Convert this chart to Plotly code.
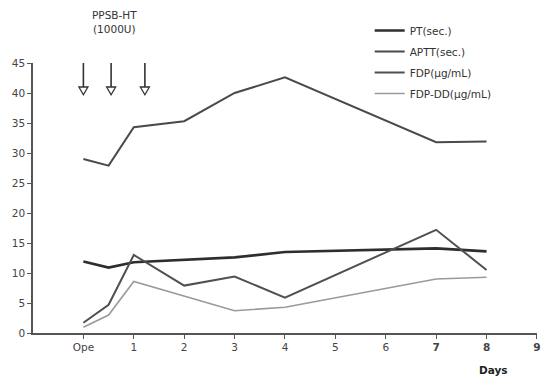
import plotly.graph_objects as go

# ---- data ----
days = [0, 0.5, 1, 2, 3, 4, 7, 8]
pt = [11.9, 10.9, 11.8, 12.2, 12.6, 13.5, 14.1, 13.6]
aptt = [29.0, 27.9, 34.3, 35.3, 40.0, 42.6, 31.8, 31.9]
fdp = [1.7, 4.7, 13.0, 7.9, 9.4, 5.9, 17.2, 10.5]
fdp_dd = [0.95, 3.0, 8.6, 6.1, 3.7, 4.3, 9.0, 9.3]

tick_vals = [0, 1, 2, 3, 4, 5, 6, 7, 8, 9]
tick_text = ["Ope", "1", "2", "3", "4", "5", "6", "<b>7</b>", "<b>8</b>", "<b>9</b>"]
dose_days = [0, 0.55, 1.22]

FONT = "DejaVu Sans"

fig = go.Figure()
series = [
    ("PT(sec.)", pt, "#2e2e2e", 2.6),
    ("APTT(sec.)", aptt, "#4a4a4a", 2.0),
    ("FDP(\u03bcg/mL)", fdp, "#505050", 2.0),
    ("FDP-DD(\u03bcg/mL)", fdp_dd, "#9a9a9a", 1.6),
]
for i, (name, vals, col, w) in enumerate(series):
    fig.add_trace(go.Scatter(
        x=days, y=vals, mode="lines", name=name,
        line=dict(color=col, width=w), legendgroup=f"g{i}",
    ))

# dose arrows (hollow heads)
shapes = []
for d in dose_days:
    shapes.append(dict(type="line", xref="x", yref="y", x0=d, x1=d, y0=45.3, y1=41.0,
                       line=dict(color="#333", width=1.6)))
    shapes.append(dict(type="path", xref="x", yref="y",
                       path=f"M {d-0.09},41.0 L {d+0.09},41.0 L {d},39.7 Z",
                       fillcolor="white", line=dict(color="#333", width=1.3)))

fig.update_layout(
    width=545, height=378,
    margin=dict(l=33, r=8, t=63, b=45, autoexpand=False),
    paper_bgcolor="white", plot_bgcolor="white",
    font=dict(family=FONT, size=11, color="#333"),
    showlegend=True,
    legend=dict(x=0.668, xanchor="left", y=(333 - 16) / 270, yanchor="top",
                bgcolor="rgba(0,0,0,0)", font=dict(size=10.5, color="#333"),
                tracegroupgap=2, itemwidth=30),
    shapes=shapes,
    xaxis=dict(range=[-1, 9.001], tickvals=tick_vals, ticktext=tick_text,
               showgrid=False, zeroline=False, showline=True, linecolor="#555",
               linewidth=1.5, ticks="outside", ticklen=4, tickcolor="#555",
               ticklabeloverflow="allow",
               tickfont=dict(size=10.5, color="#444")),
    yaxis=dict(range=[0, 45], tickvals=[0, 5, 10, 15, 20, 25, 30, 35, 40, 45],
               showgrid=False, zeroline=False, showline=True, linecolor="#555",
               linewidth=1.5, ticks="outside", ticklen=4, tickcolor="#555",
               tickfont=dict(size=10.5, color="#444")),
    annotations=[
        dict(text="PPSB-HT<br>(1000U)", xref="paper", yref="paper",
             x=(114 - 33) / 504, y=(333 - 22) / 270, showarrow=False,
             font=dict(size=10.5, color="#333"), xanchor="center", yanchor="middle"),
        dict(text="<b>Days</b>", xref="paper", yref="paper",
             x=(493 - 33) / 504, y=(333 - 370) / 270, showarrow=False,
             font=dict(size=10.5, color="#222"), xanchor="center", yanchor="middle"),
    ],
)

fig.write_html("out.html", config={"displayModeBar": False},
               post_script="document.body.style.margin='0';document.body.style.padding='0';")
